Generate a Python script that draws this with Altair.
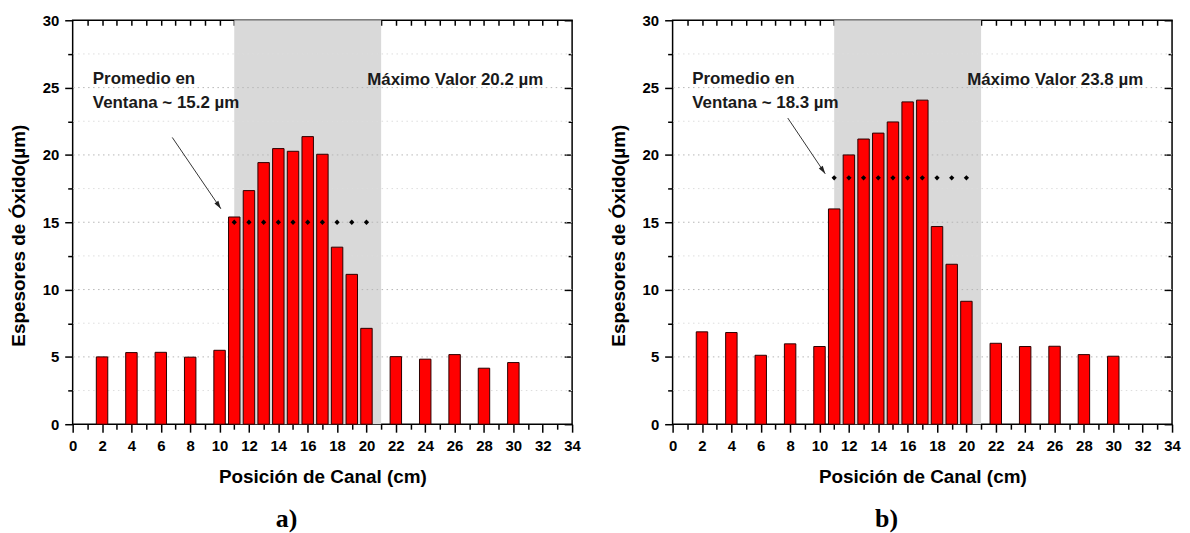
import math
import altair as alt
import pandas as pd

# ---------------- data ----------------
positions = [2, 4, 6, 8, 10, 11, 12, 13, 14, 15, 16, 17, 18, 19, 20, 22, 24, 26, 28, 30]
thickness_a = [5.00, 5.32, 5.34, 4.98, 5.49, 15.39, 17.35, 19.43, 20.47, 20.27,
               21.36, 20.05, 13.15, 11.13, 7.12, 5.02, 4.83, 5.17, 4.16, 4.58]
thickness_b = [6.86, 6.81, 5.12, 5.97, 5.77, 15.99, 20.00, 21.18, 21.62, 22.45,
               23.94, 24.07, 14.68, 11.88, 9.13, 6.01, 5.77, 5.79, 5.17, 5.05]
avg_positions = [11, 12, 13, 14, 15, 16, 17, 18, 19, 20]
avg_a = 15.0
avg_b = 18.3
window_start = [11]
window_end = [21]

x_major_ticks = [0, 2, 4, 6, 8, 10, 12, 14, 16, 18, 20, 22, 24, 26, 28, 30, 32, 34]
x_minor_ticks = [1, 3, 5, 7, 9, 11, 13, 15, 17, 19, 21, 23, 25, 27, 29, 31, 33]
x_top_ticks = [1, 2, 3, 4, 5, 6, 7, 8, 9, 10, 11, 12, 13, 14, 15, 16, 17, 18, 19, 20,
               21, 22, 23, 24, 25, 26, 27, 28, 29, 30, 31, 32, 33]
y_major_ticks = [0, 5, 10, 15, 20, 25, 30]
y_minor_ticks = [2.5, 7.5, 12.5, 17.5, 22.5, 27.5]
grid_major = [5, 10, 15, 20, 25]
grid_minor = [2.5, 7.5, 12.5, 17.5, 22.5, 27.5]

note_lines_a = ["Promedio en", "Ventana ~ 15.2 µm"]
note_lines_b = ["Promedio en", "Ventana ~ 18.3 µm"]
note_x_a = [1.37, 1.37]
note_x_b = [1.33, 1.33]
note_y = [25.25, 23.5]
max_label_a = ["Máximo Valor 20.2 µm"]
max_label_b = ["Máximo Valor 23.8 µm"]
max_x = [20.05]
max_y = [25.2]
arrow_a = {"x1": [6.78], "y1": [21.3], "x2": [10.09], "y2": [16.0]}
arrow_b = {"x1": [7.84], "y1": [22.74], "x2": [10.39], "y2": [18.6]}

X_DOMAIN = [0, 34]
Y_DOMAIN = [0, 30]
W, H = 502, 406
FONT = "Liberation Sans"


def tick_axis(orient, values, size, offset=0, labels=False, title_kw=None):
    kw = dict(orient=orient, values=values, tickSize=size, tickWidth=1.5,
              tickColor="black", domain=False, grid=False, labels=labels)
    if offset:
        kw["offset"] = offset
    if labels:
        kw.update(labelFont=FONT, labelFontSize=15, labelFontWeight="bold",
                  labelColor="black", labelFlush=False, labelOverlap=False,
                  labelPadding=6)
    if title_kw:
        kw.update(titleFont=FONT, titleFontSize=19, titleFontWeight="bold",
                  titleColor="black", **title_kw)
    return alt.Axis(**kw)


def panel(values, avg, note_lines, note_x, max_label, arrow, caption):
    xs = alt.Scale(domain=X_DOMAIN, nice=False, zero=False, padding=0)
    ys = alt.Scale(domain=Y_DOMAIN, nice=False, zero=False, padding=0)
    bars_df = pd.DataFrame({"pos": positions, "val": values})

    def helper(xaxis, yaxis, xtitle=None, ytitle=None):
        return alt.Chart(bars_df).mark_point(opacity=0).encode(
            x=alt.X("pos:Q", scale=xs, axis=xaxis, title=xtitle),
            y=alt.Y("val:Q", scale=ys, axis=yaxis, title=ytitle),
        )

    h1 = helper(
        tick_axis("bottom", x_major_ticks, 8, labels=True, title_kw=dict(titlePadding=15)),
        tick_axis("left", y_major_ticks, 8, labels=True,
                  title_kw=dict(titlePadding=14, titleY=216)),
        xtitle="Posición de Canal (cm)", ytitle="Espesores de Óxido(µm)",
    )
    h2 = helper(tick_axis("bottom", x_minor_ticks, 5),
                tick_axis("left", y_minor_ticks, 5))
    h3 = helper(tick_axis("top", x_top_ticks, 5, offset=-5),
                tick_axis("right", y_major_ticks, 8, offset=-8))
    h4 = helper(None, tick_axis("right", y_minor_ticks, 4, offset=-4))

    shade = alt.Chart(pd.DataFrame({"a": window_start, "b": window_end})).mark_rect(
        color="#d9d9d9").encode(
        x=alt.X("a:Q", scale=xs, axis=None), x2="b:Q",
        y=alt.datum(Y_DOMAIN[0], scale=ys, axis=None), y2=alt.datum(Y_DOMAIN[1]),
    )
    gmaj = alt.Chart(pd.DataFrame({"g": grid_major})).mark_rule(
        color="#b5b5b5", strokeDash=[1.5, 3.5], strokeWidth=1).encode(
        y=alt.Y("g:Q", scale=ys, axis=None))
    gmin = alt.Chart(pd.DataFrame({"g": grid_minor})).mark_rule(
        color="#dddddd", strokeDash=[1.5, 3.5], strokeWidth=1).encode(
        y=alt.Y("g:Q", scale=ys, axis=None))

    bars = alt.Chart(bars_df).mark_bar(
        size=11.5, color="#ff0000", stroke="#2a0000", strokeWidth=1).encode(
        x=alt.X("pos:Q", scale=xs, axis=None),
        y=alt.Y("val:Q", scale=ys, axis=None),
    )
    dots = alt.Chart(pd.DataFrame({"p": avg_positions, "v": [avg] * len(avg_positions)})
                     ).mark_point(shape="diamond", filled=True, color="black",
                                  size=28, opacity=1).encode(
        x=alt.X("p:Q", scale=xs, axis=None),
        y=alt.Y("v:Q", scale=ys, axis=None),
    )
    txt_style = dict(align="left", baseline="alphabetic", font=FONT, fontSize=17,
                     fontWeight="bold", color="#1a1a1a")
    notes = alt.Chart(pd.DataFrame({"x": note_x, "y": note_y, "t": note_lines})
                      ).mark_text(**txt_style).encode(
        x=alt.X("x:Q", scale=xs, axis=None), y=alt.Y("y:Q", scale=ys, axis=None),
        text="t:N")
    maxt = alt.Chart(pd.DataFrame({"x": max_x, "y": max_y, "t": max_label})
                     ).mark_text(**txt_style).encode(
        x=alt.X("x:Q", scale=xs, axis=None), y=alt.Y("y:Q", scale=ys, axis=None),
        text="t:N")

    adf = pd.DataFrame(arrow)
    line = alt.Chart(adf).mark_rule(color="#333333", strokeWidth=1).encode(
        x=alt.X("x1:Q", scale=xs, axis=None), y=alt.Y("y1:Q", scale=ys, axis=None),
        x2="x2:Q", y2="y2:Q")
    dx = (arrow["x2"][0] - arrow["x1"][0]) * W / (X_DOMAIN[1] - X_DOMAIN[0])
    dy = (arrow["y1"][0] - arrow["y2"][0]) * H / (Y_DOMAIN[1] - Y_DOMAIN[0])
    ang = math.degrees(math.atan2(dx, -dy)) % 360
    head = alt.Chart(adf).mark_point(
        shape="M0,0L0.3,1L-0.3,1Z", filled=True, color="#222222", size=256,
        angle=ang, opacity=1).encode(
        x=alt.X("x2:Q", scale=xs, axis=None), y=alt.Y("y2:Q", scale=ys, axis=None))

    return alt.layer(
        shade, gmin, gmaj, bars, dots, notes, maxt, line, head, h1, h2, h3, h4
    ).resolve_axis(x="independent", y="independent").properties(
        width=W, height=H,
        title=alt.TitleParams(caption, orient="bottom", anchor="middle", dx=-36,
                              offset=19, font="Liberation Serif", fontSize=26,
                              fontWeight="bold", color="black"),
    )


pa = panel(thickness_a, avg_a, note_lines_a, note_x_a, max_label_a, arrow_a, "a)")
pb = panel(thickness_b, avg_b, note_lines_b, note_x_b, max_label_b, arrow_b, "b)")

chart = alt.hconcat(pa, pb, spacing=26).properties(
    padding={"left": 0, "top": 3, "right": 0, "bottom": 0},
    background="white",
).configure_view(stroke="black", strokeWidth=1.5)

chart.save("out.html", embed_options={"renderer": "svg", "actions": False})
